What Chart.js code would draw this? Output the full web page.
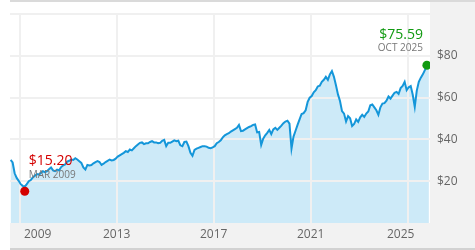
<!DOCTYPE html>
<html>
<head>
<meta charset="utf-8">
<script src="https://cdn.jsdelivr.net/npm/chart.js@4.4.1/dist/chart.umd.min.js"></script>
<style>
  html, body { margin: 0; padding: 0; background: #fff; }
  #wrap { width: 475px; height: 250px; }
</style>
</head>
<body>
<div id="wrap"><canvas id="priceChart" width="475" height="250"></canvas></div>
<script>
// monthly closing prices, starting Aug 2008
const START_YEAR = 2008;
const START_MONTH = 8;
const monthlyPrices = [
  30.2, 29.0, 23.8, 21.6, 20.2,                                       // 2008 Aug-Dec
  18.6, 17.8, 17.4, 18.6, 20.0, 20.6, 21.8, 22.6, 23.4, 23.2, 24.0, 24.8, // 2009
  24.4, 24.8, 25.8, 26.6, 25.2, 24.8, 25.6, 25.2, 26.8, 27.6, 28.0, 29.4, // 2010
  29.8, 30.4, 30.2, 31.0, 30.4, 29.6, 28.8, 26.6, 25.6, 27.8, 27.6, 27.8, // 2011
  28.6, 29.2, 29.6, 29.2, 27.8, 28.4, 29.2, 29.8, 30.4, 30.0, 30.2, 30.8, // 2012
  31.8, 32.4, 33.0, 33.6, 34.4, 34.0, 35.2, 34.8, 35.8, 36.8, 37.6, 38.4, // 2013
  38.6, 37.8, 38.2, 38.2, 38.8, 39.2, 38.6, 38.6, 38.2, 38.4, 39.4, 39.8, // 2014
  36.8, 38.4, 38.4, 39.0, 39.6, 39.2, 39.4, 37.2, 36.8, 38.8, 39.0, 36.8, // 2015
  33.6, 32.2, 35.0, 35.6, 36.0, 36.4, 36.8, 36.8, 36.6, 36.0, 35.8, 36.2, // 2016
  36.8, 38.2, 38.8, 39.6, 41.0, 42.0, 42.6, 43.0, 43.8, 44.4, 45.0, 45.6, // 2017
  47.0, 44.0, 44.2, 44.8, 45.4, 46.0, 46.4, 47.0, 47.2, 43.4, 43.6, 37.4, // 2018
  40.4, 42.0, 43.2, 44.6, 42.6, 44.8, 45.6, 44.6, 45.6, 46.6, 47.8, 48.6, // 2019
  49.0, 47.6, 35.6, 41.4, 44.2, 47.0, 49.6, 52.2, 52.6, 54.0, 58.0, 60.0, // 2020
  60.8, 62.6, 63.6, 65.4, 65.8, 67.6, 68.6, 70.0, 68.6, 71.2, 72.8, 70.0, // 2021
  66.0, 61.6, 58.4, 53.6, 52.4, 48.6, 51.2, 50.2, 46.4, 47.4, 49.6, 48.4, // 2022
  50.6, 51.8, 50.8, 52.4, 53.4, 56.4, 56.8, 55.4, 54.0, 51.8, 55.4, 57.2, // 2023
  57.4, 58.6, 60.6, 59.6, 61.0, 62.4, 62.8, 61.8, 64.6, 65.6, 67.6, 63.6, // 2024
  65.0, 65.6, 61.4, 55.6, 63.4, 67.6, 69.6, 71.2, 73.2, 75.59, 74.6        // 2025 Jan-Nov
];

const lowPoint = { year: 2009, month: 3, price: 15.20 };
const highPoint = { year: 2025, month: 10, price: 75.59 };

const tickYears = [2009, 2013, 2017, 2021, 2025];
const yTicks = [20, 40, 60, 80];
const MONTH_NAMES = ['JAN', 'FEB', 'MAR', 'APR', 'MAY', 'JUN', 'JUL', 'AUG', 'SEP', 'OCT', 'NOV', 'DEC'];

const LINE_COLOR = '#1496d9';
const FILL_COLOR = '#cdeaf8';
const GRID_COLOR = '#f0f0f0';
const LOW_COLOR = '#d40000';
const HIGH_COLOR = '#119a11';

Chart.defaults.font.family = '"Open Sans", sans-serif';
Chart.defaults.font.size = 12;
Chart.defaults.color = '#666';

function monthToX(year, month) {
  return year + (month - 0.5) / 12;
}

const linePoints = monthlyPrices.map((price, i) => {
  const m = START_MONTH - 1 + i;
  return { x: monthToX(START_YEAR + Math.floor(m / 12), (m % 12) + 1), y: price };
});

function formatPrice(v) {
  return `$${v.toFixed(2)}`;
}

function formatMonth(p) {
  return `${MONTH_NAMES[p.month - 1]} ${p.year}`;
}

const framePlugin = {
  id: 'frame',
  beforeDraw(chart) {
    const { ctx, chartArea, width, height } = chart;
    ctx.save();
    ctx.fillStyle = '#f2f2f2';
    ctx.fillRect(chartArea.right, 2, width - chartArea.right, height - 4);
    ctx.fillRect(chartArea.left, chartArea.bottom, width - chartArea.left, height - 2 - chartArea.bottom);
    ctx.fillStyle = '#dadada';
    ctx.fillRect(chartArea.left, 0, width - chartArea.left, 2);
    ctx.fillStyle = '#d2d2d2';
    ctx.fillRect(chartArea.left, height - 2, width - chartArea.left, 2);
    ctx.restore();
  },
  afterDraw(chart) {
    const { ctx, chartArea } = chart;
    const xScale = chart.scales.x;
    ctx.save();

    // year labels, the outer ones nudged inwards
    ctx.font = '12px "Open Sans"';
    ctx.fillStyle = '#666';
    ctx.textAlign = 'center';
    ctx.textBaseline = 'middle';
    tickYears.forEach((yr, i) => {
      let x = xScale.getPixelForValue(yr);
      if (i === 0) x += 18;
      if (i === tickYears.length - 1) x -= 7;
      ctx.fillText(String(yr), x, chartArea.bottom + 12);
    });

    // callouts for low and high
    const low = chart.getDatasetMeta(0).data[0];
    const high = chart.getDatasetMeta(1).data[0];

    ctx.textAlign = 'left';
    ctx.font = '14px "Open Sans"';
    ctx.fillStyle = LOW_COLOR;
    ctx.fillText(formatPrice(lowPoint.price), low.x + 4, low.y - 30);
    ctx.font = '10px "Open Sans"';
    ctx.fillStyle = '#777';
    ctx.fillText(formatMonth(lowPoint), low.x + 4, low.y - 16);

    ctx.textAlign = 'right';
    ctx.font = '14px "Open Sans"';
    ctx.fillStyle = HIGH_COLOR;
    ctx.fillText(formatPrice(highPoint.price), high.x - 4, high.y - 30);
    ctx.font = '10px "Open Sans"';
    ctx.fillStyle = '#777';
    ctx.fillText(formatMonth(highPoint), high.x - 4, high.y - 17);

    ctx.restore();
  },
};

const ctx = document.getElementById('priceChart').getContext('2d');
new Chart(ctx, {
  type: 'line',
  data: {
    datasets: [
      {
        label: 'Low',
        data: [{ x: monthToX(lowPoint.year, lowPoint.month), y: lowPoint.price }],
        showLine: false,
        pointRadius: 4.5,
        pointBorderWidth: 0,
        pointBackgroundColor: LOW_COLOR,
        order: 0,
      },
      {
        label: 'High',
        data: [{ x: monthToX(highPoint.year, highPoint.month), y: highPoint.price }],
        showLine: false,
        pointRadius: 4.5,
        pointBorderWidth: 0,
        pointBackgroundColor: HIGH_COLOR,
        order: 0,
      },
      {
        label: 'Price',
        data: linePoints,
        borderColor: LINE_COLOR,
        borderWidth: 2,
        backgroundColor: FILL_COLOR,
        fill: 'origin',
        pointRadius: 0,
        tension: 0,
        order: 1,
      },
    ],
  },
  options: {
    responsive: false,
    animation: false,
    devicePixelRatio: 1,
    events: [],
    layout: { padding: { left: 10, top: 10, right: 0, bottom: 0 } },
    scales: {
      x: {
        type: 'linear',
        min: 2008.6,
        max: 2025.92,
        afterBuildTicks: (scale) => {
          scale.ticks = tickYears.map((v) => ({ value: v }));
        },
        afterFit: (scale) => { scale.height = 27; },
        ticks: { display: false },
        grid: { color: GRID_COLOR, lineWidth: 2, drawTicks: false },
        border: { display: false },
      },
      y: {
        position: 'right',
        min: 0,
        max: 100,
        afterBuildTicks: (scale) => {
          scale.ticks = [0, ...yTicks, 100].map((v) => ({ value: v }));
        },
        afterFit: (scale) => { scale.width = 45; },
        ticks: {
          padding: 7,
          color: '#666',
          callback: (v) => (yTicks.includes(v) ? `$${v}` : ''),
        },
        grid: {
          color: (c) => (c.tick && c.tick.value === 0 ? 'rgba(0,0,0,0)' : GRID_COLOR),
          lineWidth: 2,
          drawTicks: false,
        },
        border: { display: false },
      },
    },
    plugins: {
      legend: { display: false },
      tooltip: { enabled: false },
      filler: { drawTime: 'beforeDraw' },
    },
  },
  plugins: [framePlugin],
});
</script>
</body>
</html>
